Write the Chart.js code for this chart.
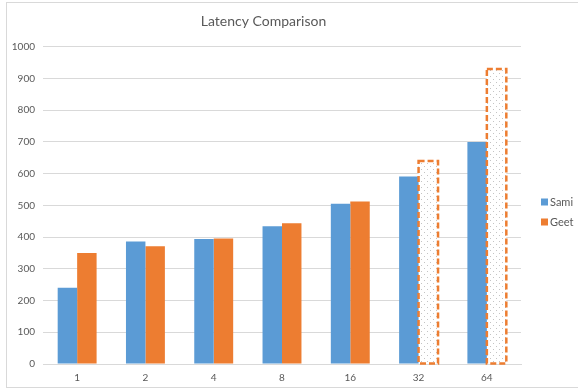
<!DOCTYPE html>
<html>
<head>
<meta charset="utf-8">
<script src="https://cdn.jsdelivr.net/npm/chart.js@4/dist/chart.umd.min.js"></script>
<style>
  html, body { margin: 0; padding: 0; background: #fff; overflow: hidden; }
  #wrap { position: relative; width: 578px; height: 391px; }
  #frame { position: absolute; left: 6px; top: 2px; width: 600px; height: 386px; border: 1px solid #d9d9d9; box-sizing: border-box; }
  canvas { position: absolute; left: 0; top: 0; }
</style>
</head>
<body>
<div id="wrap">
  <div id="frame"></div>
  <canvas id="chart" width="578" height="391"></canvas>
</div>
<script>
// Thread counts on the x axis and the measured latency of each implementation
const categories = ['1', '2', '4', '8', '16', '32', '64'];
const samiValues = [240, 386, 394, 434, 505, 591, 700];
const geetValues = [350, 371, 396, 444, 512, 640, 930];
// Geet results that are projections rather than measurements (drawn dotted with a dashed outline)
const geetProjected = [false, false, false, false, false, true, true];

const seriesNames = ['Sami', 'Geet'];
const seriesColors = ['#5B9BD5', '#ED7D31'];
const textColor = '#595959';
const gridColor = '#d9d9d9';
const fontFamily = 'Lato, "Open Sans", sans-serif';

function dotPattern() {
  const tile = document.createElement('canvas');
  tile.width = 6; tile.height = 6;
  const g = tile.getContext('2d');
  g.fillStyle = '#ffffff';
  g.fillRect(0, 0, 6, 6);
  g.fillStyle = '#c4c4c4';
  g.fillRect(1, 1, 1, 1);
  g.fillRect(4, 4, 1, 1);
  return g.createPattern(tile, 'repeat');
}

const ctx = document.getElementById('chart').getContext('2d');
const dots = dotPattern();
const geetFill = geetProjected.map(p => (p ? dots : seriesColors[1]));

// Dashed outline around projected bars
const projectedOutline = {
  id: 'projectedOutline',
  afterDatasetsDraw(chart) {
    const meta = chart.getDatasetMeta(1);
    const c = chart.ctx;
    c.save();
    c.strokeStyle = seriesColors[1];
    c.lineWidth = 2.5;
    c.setLineDash([6, 3]);
    meta.data.forEach((bar, i) => {
      if (!geetProjected[i]) return;
      const { x, y, base, width } = bar.getProps(['x', 'y', 'base', 'width'], true);
      c.strokeRect(x - width / 2, y, width, base - y);
    });
    c.restore();
  }
};

// Vertical legend to the right of the plot area
const sideLegend = {
  id: 'sideLegend',
  afterDraw(chart) {
    const c = chart.ctx;
    const area = chart.chartArea;
    const x0 = area.right + 20;
    const yStart = 202;
    c.save();
    c.font = '11px ' + fontFamily;
    c.textBaseline = 'middle';
    chart.data.datasets.forEach((ds, i) => {
      const y = yStart + i * 20;
      c.fillStyle = seriesColors[i];
      c.fillRect(x0, y - 3.5, 7, 7);
      c.fillStyle = textColor;
      c.fillText(ds.label, x0 + 9, y);
    });
    c.restore();
  }
};

new Chart(ctx, {
  type: 'bar',
  data: {
    labels: categories,
    datasets: [
      { label: seriesNames[0], data: samiValues, backgroundColor: seriesColors[0], borderWidth: 0 },
      { label: seriesNames[1], data: geetValues, backgroundColor: geetFill, borderWidth: 0 }
    ]
  },
  options: {
    responsive: false,
    animation: false,
    devicePixelRatio: 1,
    categoryPercentage: 0.57,
    barPercentage: 1.0,
    layout: { padding: { left: 6, right: 57, top: 0, bottom: 7 } },
    plugins: {
      legend: { display: false },
      tooltip: { enabled: false },
      title: {
        display: true,
        text: 'Latency Comparison',
        color: textColor,
        font: { family: fontFamily, size: 14, weight: 'normal' },
        padding: { top: 13, bottom: 17 }
      }
    },
    scales: {
      x: {
        grid: { display: false, drawTicks: false },
        border: { display: true, color: gridColor },
        ticks: { color: textColor, font: { family: fontFamily, size: 10 }, padding: 8 },
        afterFit(scale) { scale.height = 20; }
      },
      y: {
        min: 0,
        max: 1000,
        ticks: {
          stepSize: 100,
          color: textColor,
          font: { family: fontFamily, size: 10 },
          padding: 8,
          callback: v => String(v)
        },
        grid: { color: gridColor, drawTicks: false },
        border: { display: false },
        afterFit(scale) { scale.width = 37; }
      }
    }
  },
  plugins: [projectedOutline, sideLegend]
});
</script>
</body>
</html>
